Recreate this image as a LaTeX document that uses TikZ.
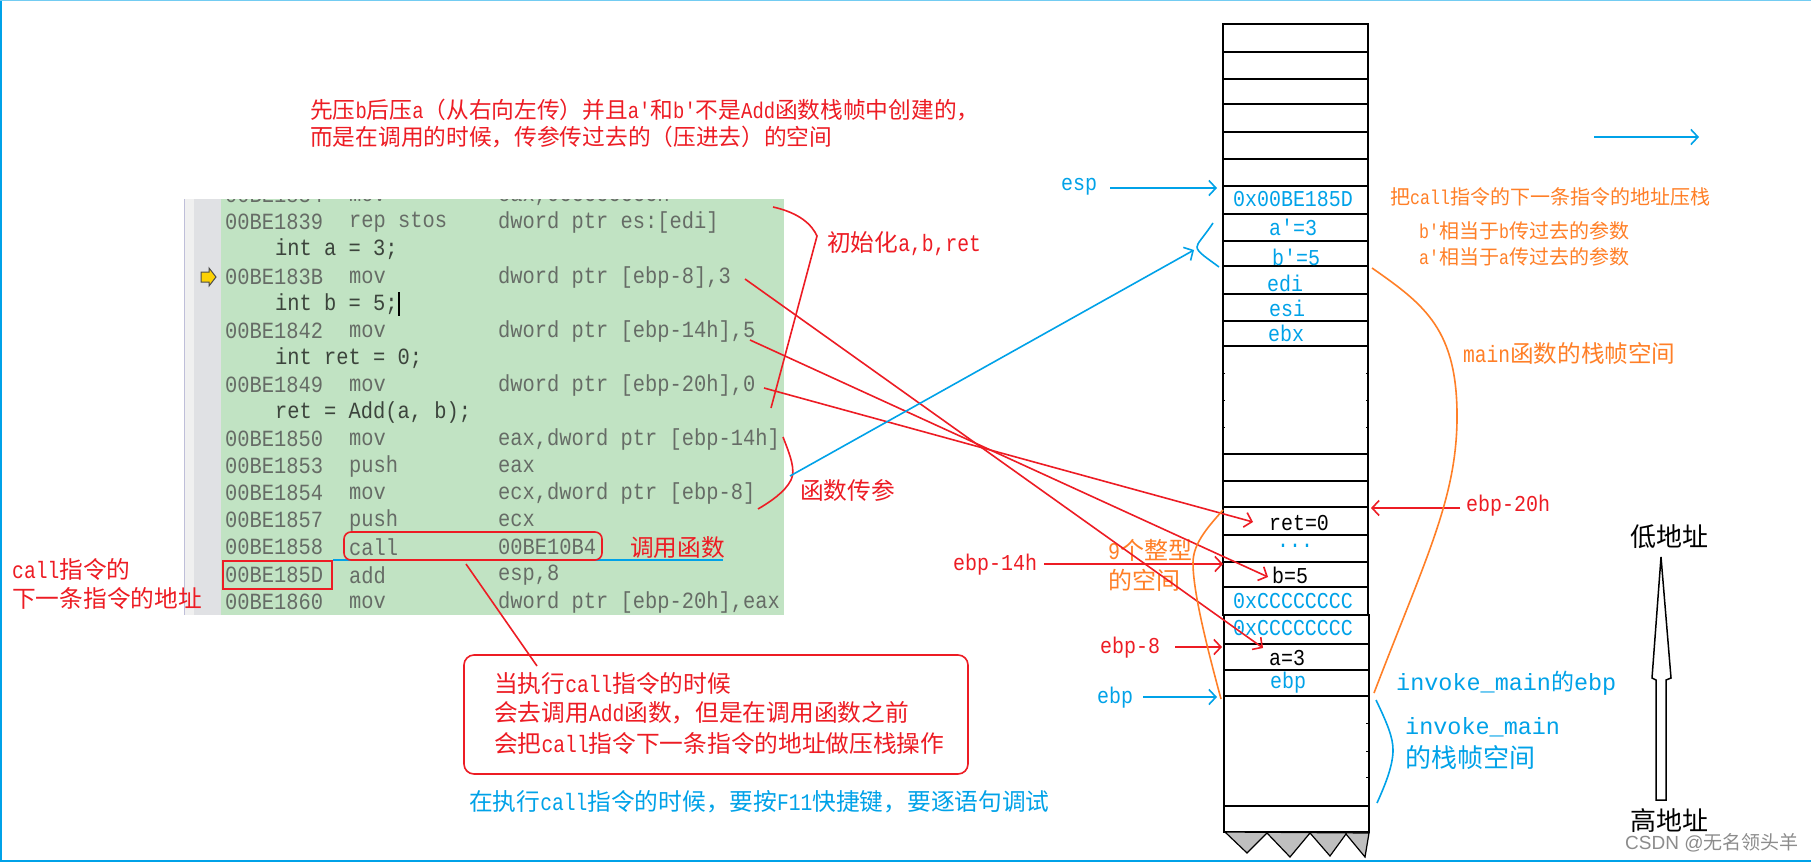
\documentclass[tikz,border=0pt]{standalone}
\usepackage{fontspec}
\usetikzlibrary{arrows.meta}
\setmainfont{Liberation Serif}
\newfontfamily\cjk{Noto Sans CJK SC}
\newfontfamily\latf[Scale=1.0,FakeStretch=0.83]{Liberation Mono}
\newfontfamily\wlatf[Scale=1.02]{Liberation Mono}
\newfontfamily\codef[FakeStretch=0.88]{Liberation Mono}
\newfontfamily\markf{Liberation Sans}
\newcommand\fs[1]{\cjk\fontsize{#1}{#1}\selectfont}
\newcommand\cs[1]{\codef\fontsize{#1}{#1}\selectfont}
\newcommand\lt[1]{{\latf #1}}
\newcommand\wl[1]{{\wlatf #1}}
\definecolor{pred}{HTML}{ED1C24}
\definecolor{pblue}{HTML}{00A2E8}
\definecolor{porange}{HTML}{FF7F27}
\definecolor{codegreen}{HTML}{C1E3C3}
\definecolor{gutter}{HTML}{E0E1E4}
\definecolor{codegray}{HTML}{666C66}
\definecolor{srcgray}{HTML}{3C443C}
\tikzset{
  lbl/.style={inner sep=0pt,anchor=west},
  ctr/.style={inner sep=0pt,anchor=center},
  redtxt/.style={lbl,text=pred,font=\fs{23.7}},
  bluetxt/.style={lbl,text=pblue,font=\fs{23}},
  orgtxt/.style={lbl,text=porange,font=\fs{20}},
  celltxt/.style={ctr,text=pblue,font=\cs{22.7}},
  blackcell/.style={ctr,text=black,font=\cs{22.7}},
  regtxt/.style={lbl,font=\cs{22.7}},
  barb/.style={-{Straight Barb[length=7pt,width=15pt,line width=1.6pt]}},
  redline/.style={draw=pred,line width=1.6pt},
  blueline/.style={draw=pblue,line width=1.6pt},
  orgline/.style={draw=porange,line width=1.6pt},
  codetxt/.style={lbl,text=codegray,font=\cs{23.2}},
  srctxt/.style={lbl,text=srcgray,font=\cs{23.2}},
}
\newcommand\codeline[5]{%
  \node[codetxt] (#1a) at (225,#2) {#3};
  \node[codetxt] (#1m) at (349,#2) {#4};
  \node[codetxt] (#1o) at (498,#2) {#5};}
\newcommand\srcline[3]{\node[srctxt] (#1) at (275,#2) {#3};}
\begin{document}
\begin{tikzpicture}[x=1pt,y=-1pt]
\useasboundingbox (0,0) rectangle (1811,862);
% frame
\fill[white] (0,0) rectangle (1811,862);
\fill[pblue] (0,0) rectangle (2,862);
\fill[pblue!55] (0,0) rectangle (1811,1);
\fill[pblue] (0,860) rectangle (1811,862);
% code panel
\fill[gray!12] (184,199) rectangle (194,615);
\draw[blue!25!gray!40,line width=0.8pt] (184,199) -- (184,615) (194,199) -- (194,615);
\fill[gutter] (194,199) rectangle (221,615);
\fill[codegreen] (221,199) rectangle (784,615);
\begin{scope}
\clip (221,199) rectangle (784,615);
\codeline{l0}{195}{00BE1834}{mov}{eax,0CCCCCCCCh}
\end{scope}
\codeline{l1}{222}{00BE1839}{rep stos}{dword ptr es:[edi]}
\srcline{s1}{249}{int a = 3;}
\codeline{l2}{277}{00BE183B}{mov}{dword ptr [ebp-8],3}
\srcline{s2}{304}{int b = 5;}
\codeline{l3}{331}{00BE1842}{mov}{dword ptr [ebp-14h],5}
\srcline{s3}{358}{int ret = 0;}
\codeline{l4}{385}{00BE1849}{mov}{dword ptr [ebp-20h],0}
\srcline{s4}{412}{ret = Add(a, b);}
\codeline{l5}{439}{00BE1850}{mov}{eax,dword ptr [ebp-14h]}
\codeline{l6}{466}{00BE1853}{push}{eax}
\codeline{l7}{493}{00BE1854}{mov}{ecx,dword ptr [ebp-8]}
\codeline{l8}{520}{00BE1857}{push}{ecx}
\codeline{l9}{547}{00BE1858}{call}{00BE10B4}
\codeline{l10}{575}{00BE185D}{add}{esp,8}
\codeline{l11}{602}{00BE1860}{mov}{dword ptr [ebp-20h],eax}
% cursor and marker
\draw[black,line width=1.2pt] (399,292) -- (399,316);
\filldraw[draw=black!70,fill=yellow!70!orange,line width=1pt] (201,272) -- (209,272) -- (209,268) -- (216,277) -- (209,286) -- (209,282) -- (201,282) -- cycle;
% stack
\draw[black,line width=1.6pt] (1223,24) rectangle (1368,615);
\draw[black,line width=1.6pt] (1224,615) rectangle (1369,832);
\foreach \yy in {52,79,104,132,159,186,214,241,266,294,321,346,454,481,507,535,562,587,644,670,696,806}
  \draw[black,line width=1.5pt] (1223,\yy) -- (1368,\yy);
\foreach \yy in {373,400,427,723,751,777} {
  \draw[black,line width=1pt] (1223,\yy) -- (1225,\yy);
  \draw[black,line width=1pt] (1366,\yy) -- (1368,\yy);}
\filldraw[fill=black!25,draw=black,line width=1.2pt] (1225,832) -- (1247,853) -- (1267,833) -- (1290,857) -- (1310,833) -- (1330,856) -- (1346,834) -- (1365,857) -- (1369,833) -- cycle;
% stack contents
\node[celltxt] (ra) at (1293,199) {0x00BE185D};
\node[celltxt] (apr) at (1293,227) {a'=3};
\node[celltxt] (bpr) at (1296,257) {b'=5};
\node[celltxt] (edi) at (1285,283) {edi};
\node[celltxt] (esi) at (1287,308) {esi};
\node[celltxt] (ebx) at (1286,333) {ebx};
\node[blackcell] (retv) at (1299,523) {ret=0};
\node[celltxt] (dots) at (1295,546) {...};
\node[blackcell] (bv) at (1290,575) {b=5};
\node[celltxt] (cc1) at (1293,601) {0xCCCCCCCC};
\node[celltxt] (cc2) at (1293,628) {0xCCCCCCCC};
\node[blackcell] (av) at (1287,658) {a=3};
\node[celltxt] (ebpc) at (1288,683) {ebp};
% red annotations
\node[redtxt,font=\fs{22.7}] (t1) at (310,110) {先压\lt{b}后压\lt{a}（从右向左传）并且\lt{a'}和\lt{b'}不是\lt{Add}函数栈帧中创建的，};
\node[redtxt,font=\fs{22.7}] (t2) at (310,137) {而是在调用的时候，传参传过去的（压进去）的空间};
\node[redtxt] (init) at (827,244) {初始化\lt{a,b,ret}};
\node[redtxt] (pass) at (800,490) {函数传参};
\node[redtxt] (callfn) at (630,548) {调用函数};
\node[redtxt] (nxt1) at (12,569) {\lt{call}指令的};
\node[redtxt] (nxt2) at (12,598) {下一条指令的地址};
\node[redtxt] (b1) at (494,683) {当执行\lt{call}指令的时候};
\node[redtxt] (b2) at (494,713) {会去调用\lt{Add}函数，但是在调用函数之前};
\node[redtxt] (b3) at (494,743) {会把\lt{call}指令下一条指令的地址做压栈操作};
\node[bluetxt,font=\fs{23.7}] (f11) at (469,802) {在执行\lt{call}指令的时候，要按\lt{F11}快捷键，要逐语句调试};
\node[regtxt,text=pred] (lb14) at (953,565) {ebp-14h};
\node[regtxt,text=pred] (lb8) at (1100,648) {ebp-8};
\node[regtxt,text=pred] (lb20) at (1466,506) {ebp-20h};
\node[regtxt,text=pblue] (lbesp) at (1061,187) {esp};
\node[regtxt,text=pblue] (lbebp) at (1097,698) {ebp};
% orange annotations
\node[orgtxt] (o1) at (1390,197) {把\lt{call}指令的下一条指令的地址压栈};
\node[orgtxt] (o2) at (1419,231) {\lt{b'}相当于\lt{b}传过去的参数};
\node[orgtxt] (o3) at (1419,257) {\lt{a'}相当于\lt{a}传过去的参数};
\node[orgtxt,font=\fs{23.6}] (o4) at (1463,353) {\lt{main}函数的栈帧空间};
\node[orgtxt,font=\fs{24}] (o5) at (1108,550) {\lt{9}个整型};
\node[orgtxt,font=\fs{24}] (o6) at (1108,580) {的空间};
% blue annotations
\node[bluetxt] (inv1) at (1396,683) {\wl{invoke\_main}的\wl{ebp}};
\node[bluetxt] (inv2) at (1405,727) {\wl{invoke\_main}};
\node[bluetxt,font=\fs{26}] (inv3) at (1405,758) {的栈帧空间};
% address arrow
\node[lbl,font=\fs{26}] (low) at (1630,537) {低地址};
\node[lbl,font=\fs{26}] (high) at (1630,821) {高地址};
\draw[black,line width=1.5pt] (1661,557) -- (1671,678) -- (1666,680) -- (1666,800) -- (1656,800) -- (1656,680) -- (1652,678) -- cycle;
\node[lbl,text=black!45,font=\fs{19}] (mark) at (1625,843) {{\markf CSDN @}无名领头羊};
% connector end points
\coordinate (s3) at (745,279); \coordinate (e3) at (1263,648);
\coordinate (s5) at (750,340); \coordinate (e5) at (1268,577);
\coordinate (s0) at (764,388); \coordinate (e0) at (1253,522);
\coordinate (sesp) at (1110,188); \coordinate (eesp) at (1217,188);
\coordinate (s14) at (1044,564); \coordinate (e14) at (1223,564);
\coordinate (s8) at (1175,647); \coordinate (e8) at (1222,647);
\coordinate (sebp) at (1143,697); \coordinate (eebp) at (1217,697);
\coordinate (s20) at (1460,508); \coordinate (e20) at (1371,508);
\coordinate (sarg) at (790,476); \coordinate (earg) at (1194,250);
\coordinate (str) at (1594,137); \coordinate (etr) at (1699,137);
\coordinate (scall) at (466,564); \coordinate (ecall) at (537,666);
% red connectors
\draw[redline,barb] (s3) -- (e3);
\draw[redline,barb] (s5) -- (e5);
\draw[redline,barb] (s0) -- (e0);
\draw[redline,barb] (s14) -- (e14);
\draw[redline,barb] (s8) -- (e8);
\draw[redline,barb] (s20) -- (e20);
\draw[redline] (scall) -- (ecall);
\draw[redline] (773,207) .. controls (800,213) and (812,225) .. (817,236) -- (771,408);
\draw[redline] (783,437) .. controls (790,455) and (796,470) .. (791,480) .. controls (785,492) and (770,502) .. (758,509);
\draw[pblue,line width=1.6pt] (333,560) -- (723,560);
\draw[redline,rounded corners=7pt] (344,532) rectangle (602,560);
\draw[redline] (223,561) rectangle (332,589);
\draw[redline,rounded corners=10pt] (464,655) rectangle (968,774);
% blue connectors
\draw[blueline,barb] (sesp) -- (eesp);
\draw[blueline,barb] (sebp) -- (eebp);
\draw[blueline,barb] (sarg) -- (earg);
\draw[blueline,barb] (str) -- (etr);
\draw[blueline] (1213,223) .. controls (1203,238) and (1197,243) .. (1197,247) .. controls (1197,252) and (1207,258) .. (1219,267);
\draw[blueline] (1376,700) .. controls (1388,725) and (1393,738) .. (1393,750) .. controls (1393,765) and (1386,783) .. (1377,803);
% orange curves
\draw[orgline] (1372,268) .. controls (1425,305) and (1458,330) .. (1457,420) .. controls (1456,500) and (1425,560) .. (1374,693);
\draw[orgline] (1223,510) .. controls (1205,530) and (1193,545) .. (1193,563) .. controls (1193,590) and (1205,640) .. (1221,699);
\end{tikzpicture}
\end{document}
